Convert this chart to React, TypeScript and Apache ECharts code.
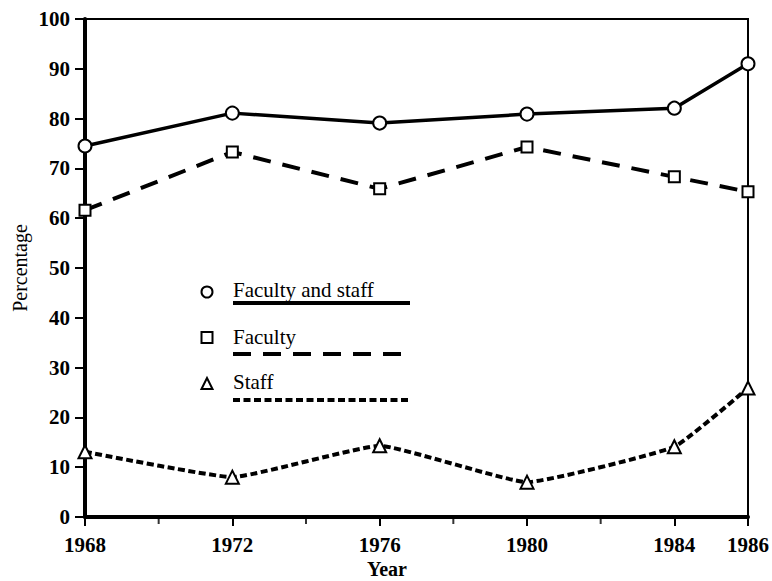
import React, { useEffect, useRef } from "react";
import * as echarts from "echarts";

const years = [1968, 1972, 1976, 1980, 1984, 1986];
const minorYears = [1970, 1974, 1978, 1982];
const facultyAndStaff = [74.5, 81.1, 79.1, 80.9, 82.1, 91.0];
const faculty = [61.6, 73.3, 65.9, 74.3, 68.3, 65.3];
const staff = [13.1, 8.0, 14.3, 7.0, 14.1, 25.9];
const yTicks = [0, 10, 20, 30, 40, 50, 60, 70, 80, 90, 100];
const legendNames = ["Faculty and staff", "Faculty", "Staff"];

const pairs = (vals: number[]) => years.map((y, i) => [y, vals[i]]);

const font = "Liberation Serif";
const fontCss = '"Liberation Serif", "Times New Roman", serif';

export default function App() {
  const ref = useRef<HTMLDivElement>(null);
  useEffect(() => {
    if (!ref.current) return;
    const chart = echarts.init(ref.current, null, { renderer: "svg" });
    const lx0 = 233, lx1 = 410;
    chart.setOption({
      animation: false,
      backgroundColor: "#fff",
      textStyle: { fontFamily: fontCss },
      grid: {
        left: 85, right: 21, top: 19, bottom: 64,
        show: true, borderColor: "#000", borderWidth: 2, backgroundColor: "transparent",
      },
      xAxis: {
        type: "value", min: 1968, max: 1986, interval: 4,
        axisLine: { show: true, lineStyle: { color: "#000", width: 4 } },
        axisTick: { show: true, length: 9, lineStyle: { color: "#000", width: 2 } },
        axisLabel: {
          customValues: years, margin: 17, color: "#000",
          fontFamily: fontCss, fontSize: 21, fontWeight: "bold",
          formatter: (v: number) => String(v),
        },
        splitLine: { show: false },
      },
      yAxis: {
        type: "value", min: 0, max: 100, interval: 10,
        axisLine: { show: true, lineStyle: { color: "#000", width: 4 } },
        axisTick: { show: true, length: 10, lineStyle: { color: "#000", width: 2 } },
        axisLabel: {
          margin: 15, color: "#000", fontFamily: fontCss, fontSize: 21, fontWeight: "bold",
          customValues: yTicks,
        },
        splitLine: { show: false },
      },
      series: [
        {
          name: legendNames[0], type: "line", data: pairs(facultyAndStaff),
          symbol: "circle", symbolSize: 13,
          lineStyle: { color: "#000", width: 3.5 },
          itemStyle: { color: "#fff", borderColor: "#000", borderWidth: 2 },
          z: 3,
        },
        {
          name: legendNames[1], type: "line", data: pairs(faculty),
          symbol: "rect", symbolSize: 11,
          lineStyle: { color: "#000", width: 4, type: [18, 12] },
          itemStyle: { color: "#fff", borderColor: "#000", borderWidth: 2 },
          z: 3,
        },
        {
          name: legendNames[2], type: "line", data: pairs(staff), smooth: 0.12,
          symbol: "triangle", symbolSize: 13,
          lineStyle: { color: "#000", width: 4, type: [7, 3.5] },
          itemStyle: { color: "#fff", borderColor: "#000", borderWidth: 2 },
          z: 3,
        },
        {
          name: "minor ticks", type: "scatter", data: minorYears.map((y) => [y, 0]),
          symbol: "rect", symbolSize: [2, 6], symbolOffset: [0, 4],
          itemStyle: { color: "#000" }, silent: true, clip: false, z: 1,
        },
      ],
      graphic: [
        { type: "circle", shape: { cx: 207, cy: 292, r: 5.5 }, style: { fill: "#fff", stroke: "#000", lineWidth: 2 } },
        { type: "text", x: lx0, y: 290, style: { text: legendNames[0], font: `21px "${font}"`, fill: "#000", verticalAlign: "middle" } },
        { type: "line", shape: { x1: lx0, y1: 303, x2: lx1, y2: 303 }, style: { stroke: "#000", lineWidth: 4 } },

        { type: "rect", shape: { x: 201.5, y: 332, width: 11, height: 11 }, style: { fill: "#fff", stroke: "#000", lineWidth: 2 } },
        { type: "text", x: lx0, y: 337, style: { text: legendNames[1], font: `21px "${font}"`, fill: "#000", verticalAlign: "middle" } },
        { type: "line", shape: { x1: lx0, y1: 354, x2: lx1, y2: 354 }, style: { stroke: "#000", lineWidth: 4, lineDash: [18, 12] } },

        { type: "polygon", shape: { points: [[207, 378], [201.5, 389], [212.5, 389]] }, style: { fill: "#fff", stroke: "#000", lineWidth: 2 } },
        { type: "text", x: lx0, y: 382, style: { text: legendNames[2], font: `21px "${font}"`, fill: "#000", verticalAlign: "middle" } },
        { type: "line", shape: { x1: lx0, y1: 400, x2: lx1, y2: 400 }, style: { stroke: "#000", lineWidth: 4, lineDash: [7, 3.5] } },

        { type: "text", x: 20, y: 268, rotation: Math.PI / 2, style: { text: "Percentage", font: `20px "${font}"`, fill: "#000", align: "center", verticalAlign: "middle" } },
        { type: "text", x: 387, y: 569, style: { text: "Year", font: `bold 20px "${font}"`, fill: "#000", align: "center", verticalAlign: "middle" } },
      ],
    });
    return () => chart.dispose();
  }, []);
  return <div ref={ref} style={{ width: 772, height: 581, position: "absolute", left: 0, top: 0 }} />;
}
